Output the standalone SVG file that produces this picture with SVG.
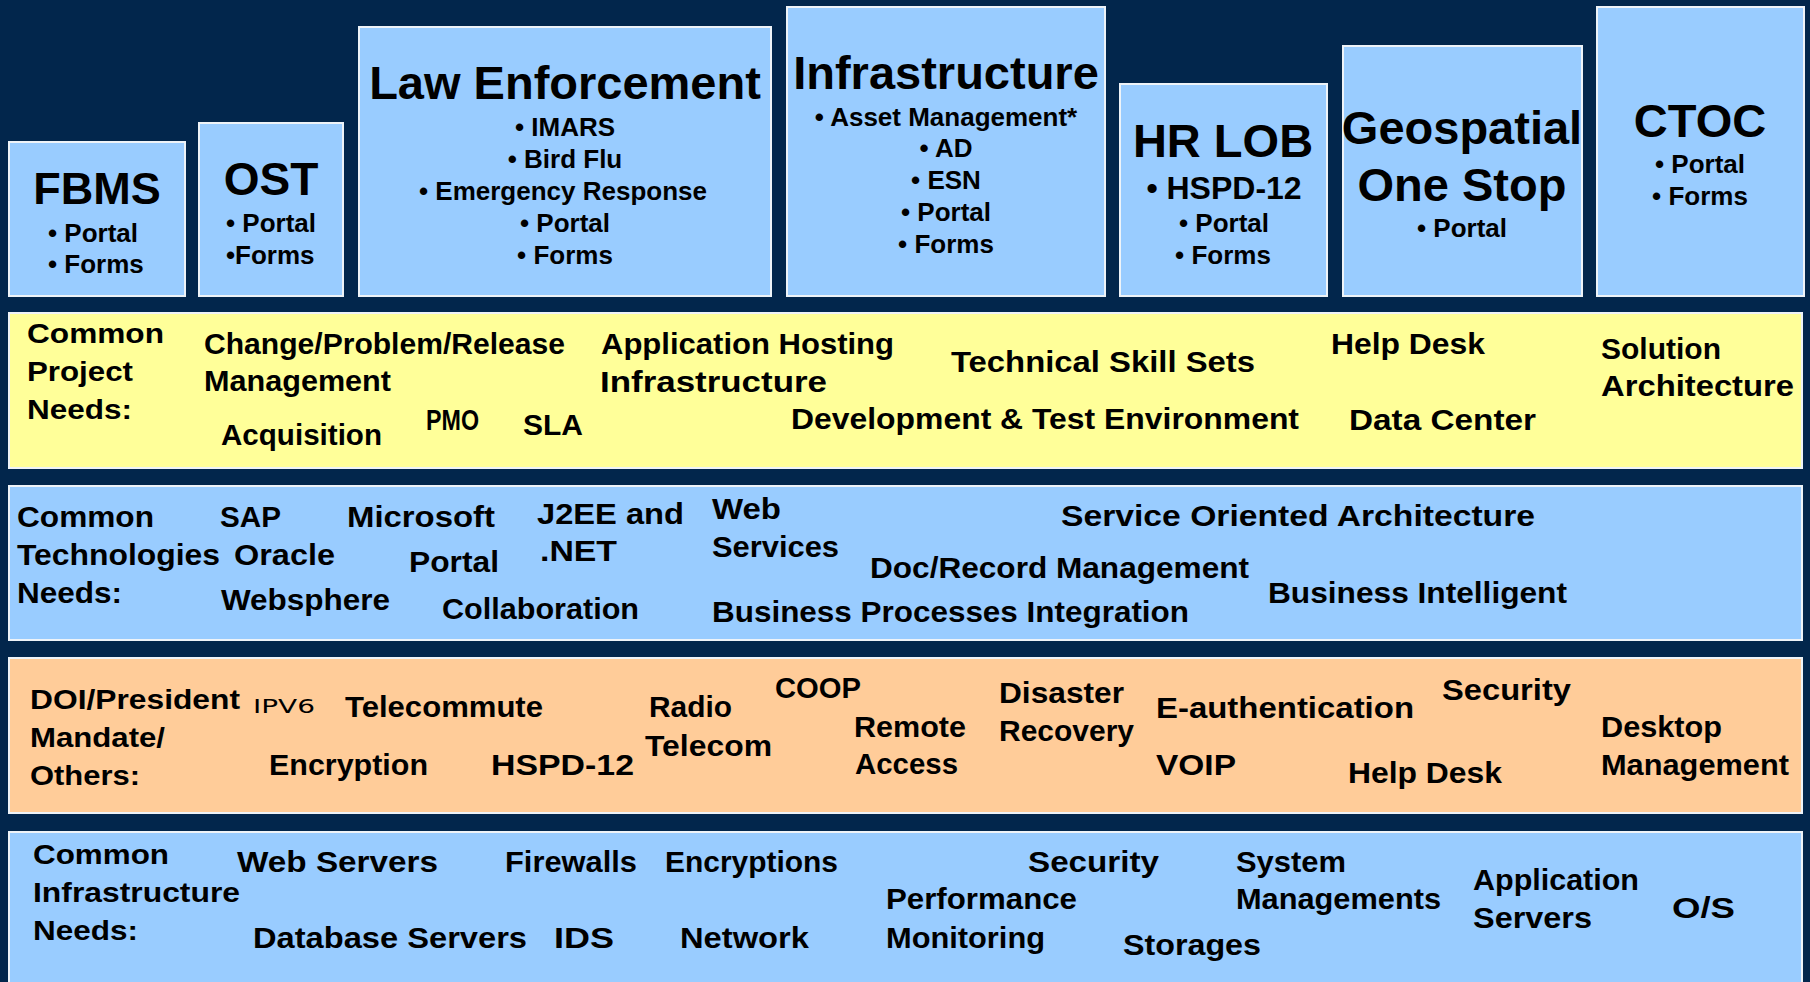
<svg xmlns="http://www.w3.org/2000/svg" width="1810" height="982" viewBox="0 0 1810 982">
<style>
.box{fill:#99CCFF;stroke:#EEF3F8;stroke-width:2}
.yel{fill:#FFFF99;stroke:#EEF3F8;stroke-width:2}
.org{fill:#FFCC99;stroke:#EEF3F8;stroke-width:2}
text{font-family:"Liberation Sans",Arial,sans-serif;font-weight:bold;fill:#000}
.title{font-size:47px;text-anchor:middle}
.item{font-size:26px}
.mid{text-anchor:middle}
.lbl{font-size:28px}
.c{font-size:29px}
.hand{font-size:20px;font-weight:normal;font-family:"DejaVu Sans",sans-serif}
</style>
<rect x="0" y="0" width="1810" height="982" fill="#02264C"/>

<g id="fbms">
<rect class="box" x="9" y="142" width="176" height="154"/>
<text class="title" x="97" y="204" style="font-size:45px">FBMS</text>
<text class="item" x="48" y="242">• Portal</text>
<text class="item" x="48" y="273">• Forms</text>
</g>

<g id="ost">
<rect class="box" x="199" y="123" width="144" height="173"/>
<text class="title" x="271" y="195" style="font-size:46px">OST</text>
<text class="item" x="226" y="232">• Portal</text>
<text class="item" x="226" y="264">•Forms</text>
</g>

<g id="law-enforcement">
<rect class="box" x="359" y="27" width="412" height="269"/>
<text class="title" x="565" y="99">Law Enforcement</text>
<text class="item mid" x="565" y="136">• IMARS</text>
<text class="item mid" x="565" y="168">• Bird Flu</text>
<text class="item mid" x="563" y="200">• Emergency Response</text>
<text class="item mid" x="565" y="232">• Portal</text>
<text class="item mid" x="565" y="264">• Forms</text>
</g>

<g id="infrastructure">
<rect class="box" x="787" y="7" width="318" height="289"/>
<text class="title" x="946" y="89">Infrastructure</text>
<text class="item mid" x="946" y="126">• Asset Management*</text>
<text class="item mid" x="946" y="157">• AD</text>
<text class="item mid" x="946" y="189">• ESN</text>
<text class="item mid" x="946" y="221">• Portal</text>
<text class="item mid" x="946" y="253">• Forms</text>
</g>

<g id="hr-lob">
<rect class="box" x="1120" y="84" width="207" height="212"/>
<text class="title" x="1223" y="157">HR LOB</text>
<text class="item mid" x="1224" y="199" style="font-size:32px">• HSPD-12</text>
<text class="item mid" x="1224" y="232">• Portal</text>
<text class="item mid" x="1223" y="264">• Forms</text>
</g>

<g id="geospatial">
<rect class="box" x="1343" y="46" width="239" height="250"/>
<text class="title" x="1462" y="144">Geospatial</text>
<text class="title" x="1462" y="201">One Stop</text>
<text class="item mid" x="1462" y="237">• Portal</text>
</g>

<g id="ctoc">
<rect class="box" x="1597" y="7" width="207" height="289"/>
<text class="title" x="1700" y="137">CTOC</text>
<text class="item mid" x="1700" y="173">• Portal</text>
<text class="item mid" x="1700" y="205">• Forms</text>
</g>

<g id="project-needs">
<rect class="yel" x="9" y="313" width="1793" height="155"/>
<text class="lbl" x="27" y="343" textLength="137" lengthAdjust="spacingAndGlyphs">Common</text>
<text class="lbl" x="27" y="381" textLength="106" lengthAdjust="spacingAndGlyphs">Project</text>
<text class="lbl" x="27" y="419" textLength="105" lengthAdjust="spacingAndGlyphs">Needs:</text>
<text class="c" x="204" y="354" textLength="361" lengthAdjust="spacingAndGlyphs">Change/Problem/Release</text>
<text class="c" x="204" y="391" textLength="187" lengthAdjust="spacingAndGlyphs">Management</text>
<text class="c" x="221" y="445" textLength="161" lengthAdjust="spacingAndGlyphs">Acquisition</text>
<text class="c" x="426" y="430" textLength="53" lengthAdjust="spacingAndGlyphs">PMO</text>
<text class="c" x="523" y="435" textLength="60" lengthAdjust="spacingAndGlyphs">SLA</text>
<text class="c" x="601" y="354" textLength="293" lengthAdjust="spacingAndGlyphs">Application Hosting</text>
<text class="c" x="600" y="392" textLength="227" lengthAdjust="spacingAndGlyphs">Infrastructure</text>
<text class="c" x="791" y="429" textLength="508" lengthAdjust="spacingAndGlyphs">Development &amp; Test Environment</text>
<text class="c" x="951" y="372" textLength="304" lengthAdjust="spacingAndGlyphs">Technical Skill Sets</text>
<text class="c" x="1331" y="354" textLength="154" lengthAdjust="spacingAndGlyphs">Help Desk</text>
<text class="c" x="1349" y="430" textLength="187" lengthAdjust="spacingAndGlyphs">Data Center</text>
<text class="c" x="1601" y="359" textLength="120" lengthAdjust="spacingAndGlyphs">Solution</text>
<text class="c" x="1601" y="396" textLength="193" lengthAdjust="spacingAndGlyphs">Architecture</text>
</g>

<g id="technologies-needs">
<rect class="box" x="9" y="486" width="1793" height="154"/>
<text class="c" x="17" y="527" textLength="137" lengthAdjust="spacingAndGlyphs">Common</text>
<text class="c" x="17" y="565" textLength="203" lengthAdjust="spacingAndGlyphs">Technologies</text>
<text class="c" x="17" y="603" textLength="105" lengthAdjust="spacingAndGlyphs">Needs:</text>
<text class="c" x="220" y="527" textLength="61" lengthAdjust="spacingAndGlyphs">SAP</text>
<text class="c" x="234" y="565" textLength="101" lengthAdjust="spacingAndGlyphs">Oracle</text>
<text class="c" x="221" y="610" textLength="169" lengthAdjust="spacingAndGlyphs">Websphere</text>
<text class="c" x="347" y="527" textLength="148" lengthAdjust="spacingAndGlyphs">Microsoft</text>
<text class="c" x="409" y="572" textLength="90" lengthAdjust="spacingAndGlyphs">Portal</text>
<text class="c" x="442" y="619" textLength="197" lengthAdjust="spacingAndGlyphs">Collaboration</text>
<text class="c" x="537" y="524" textLength="147" lengthAdjust="spacingAndGlyphs">J2EE and</text>
<text class="c" x="540" y="561" textLength="77" lengthAdjust="spacingAndGlyphs">.NET</text>
<text class="c" x="712" y="519" textLength="69" lengthAdjust="spacingAndGlyphs">Web</text>
<text class="c" x="712" y="557" textLength="127" lengthAdjust="spacingAndGlyphs">Services</text>
<text class="c" x="712" y="622" textLength="477" lengthAdjust="spacingAndGlyphs">Business Processes Integration</text>
<text class="c" x="870" y="578" textLength="379" lengthAdjust="spacingAndGlyphs">Doc/Record Management</text>
<text class="c" x="1061" y="526" textLength="474" lengthAdjust="spacingAndGlyphs">Service Oriented Architecture</text>
<text class="c" x="1268" y="603" textLength="299" lengthAdjust="spacingAndGlyphs">Business Intelligent</text>
</g>

<g id="mandates">
<rect class="org" x="9" y="658" width="1793" height="155"/>
<text class="lbl" x="30" y="709" textLength="210" lengthAdjust="spacingAndGlyphs">DOI/President</text>
<text class="lbl" x="30" y="747" textLength="135" lengthAdjust="spacingAndGlyphs">Mandate/</text>
<text class="lbl" x="30" y="785" textLength="110" lengthAdjust="spacingAndGlyphs">Others:</text>
<text class="hand" x="253" y="713" textLength="62" lengthAdjust="spacingAndGlyphs">IPV6</text>
<text class="c" x="345" y="717" textLength="198" lengthAdjust="spacingAndGlyphs">Telecommute</text>
<text class="c" x="269" y="775" textLength="159" lengthAdjust="spacingAndGlyphs">Encryption</text>
<text class="c" x="491" y="775" textLength="143" lengthAdjust="spacingAndGlyphs">HSPD-12</text>
<text class="c" x="649" y="717" textLength="83" lengthAdjust="spacingAndGlyphs">Radio</text>
<text class="c" x="645" y="756" textLength="127" lengthAdjust="spacingAndGlyphs">Telecom</text>
<text class="c" x="775" y="698" textLength="86" lengthAdjust="spacingAndGlyphs">COOP</text>
<text class="c" x="854" y="737" textLength="112" lengthAdjust="spacingAndGlyphs">Remote</text>
<text class="c" x="855" y="774" textLength="103" lengthAdjust="spacingAndGlyphs">Access</text>
<text class="c" x="999" y="703" textLength="125" lengthAdjust="spacingAndGlyphs">Disaster</text>
<text class="c" x="999" y="741" textLength="135" lengthAdjust="spacingAndGlyphs">Recovery</text>
<text class="c" x="1156" y="718" textLength="258" lengthAdjust="spacingAndGlyphs">E-authentication</text>
<text class="c" x="1156" y="775" textLength="80" lengthAdjust="spacingAndGlyphs">VOIP</text>
<text class="c" x="1442" y="700" textLength="129" lengthAdjust="spacingAndGlyphs">Security</text>
<text class="c" x="1348" y="783" textLength="154" lengthAdjust="spacingAndGlyphs">Help Desk</text>
<text class="c" x="1601" y="737" textLength="121" lengthAdjust="spacingAndGlyphs">Desktop</text>
<text class="c" x="1601" y="775" textLength="188" lengthAdjust="spacingAndGlyphs">Management</text>
</g>

<g id="infrastructure-needs">
<rect class="box" x="9" y="832" width="1793" height="160"/>
<text class="lbl" x="33" y="864" textLength="136" lengthAdjust="spacingAndGlyphs">Common</text>
<text class="lbl" x="33" y="902" textLength="207" lengthAdjust="spacingAndGlyphs">Infrastructure</text>
<text class="lbl" x="33" y="940" textLength="105" lengthAdjust="spacingAndGlyphs">Needs:</text>
<text class="c" x="237" y="872" textLength="201" lengthAdjust="spacingAndGlyphs">Web Servers</text>
<text class="c" x="505" y="872" textLength="132" lengthAdjust="spacingAndGlyphs">Firewalls</text>
<text class="c" x="665" y="872" textLength="173" lengthAdjust="spacingAndGlyphs">Encryptions</text>
<text class="c" x="253" y="948" textLength="274" lengthAdjust="spacingAndGlyphs">Database Servers</text>
<text class="c" x="554" y="948" textLength="60" lengthAdjust="spacingAndGlyphs">IDS</text>
<text class="c" x="680" y="948" textLength="129" lengthAdjust="spacingAndGlyphs">Network</text>
<text class="c" x="886" y="909" textLength="191" lengthAdjust="spacingAndGlyphs">Performance</text>
<text class="c" x="886" y="948" textLength="159" lengthAdjust="spacingAndGlyphs">Monitoring</text>
<text class="c" x="1028" y="872" textLength="131" lengthAdjust="spacingAndGlyphs">Security</text>
<text class="c" x="1123" y="955" textLength="138" lengthAdjust="spacingAndGlyphs">Storages</text>
<text class="c" x="1236" y="872" textLength="110" lengthAdjust="spacingAndGlyphs">System</text>
<text class="c" x="1236" y="909" textLength="205" lengthAdjust="spacingAndGlyphs">Managements</text>
<text class="c" x="1473" y="890" textLength="166" lengthAdjust="spacingAndGlyphs">Application</text>
<text class="c" x="1473" y="928" textLength="119" lengthAdjust="spacingAndGlyphs">Servers</text>
<text class="c" x="1672" y="918" textLength="63" lengthAdjust="spacingAndGlyphs">O/S</text>
</g>
</svg>
